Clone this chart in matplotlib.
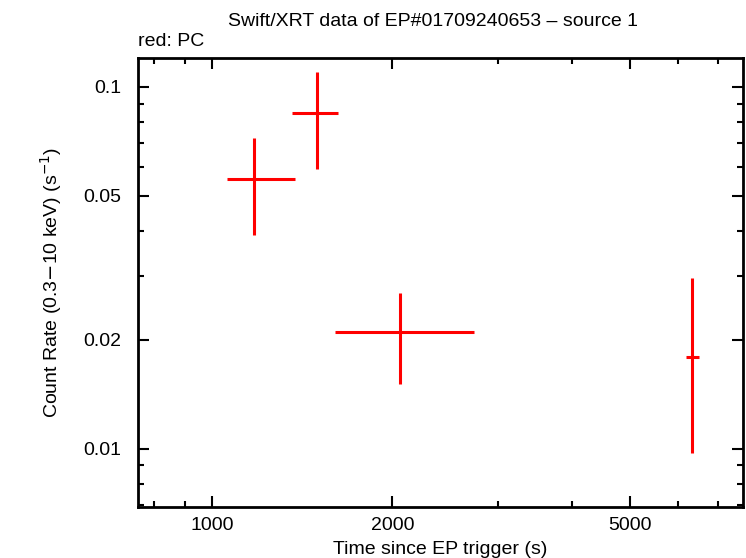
import numpy as np
import matplotlib
matplotlib.use('Agg')
import matplotlib.pyplot as plt
from matplotlib.ticker import FixedLocator, LogLocator, NullFormatter

plt.rcParams['font.family'] = ['Liberation Sans Narrow', 'Liberation Sans', 'DejaVu Sans']

# PC data (time since trigger, count rate)
t = np.array([1172, 1499, 2056, 6343])
t_lo = np.array([1060, 1360, 1605, 6188])
t_hi = np.array([1373, 1623, 2735, 6523])
rate = np.array([0.0556, 0.0846, 0.0210, 0.0179])
rate_lo = np.array([0.0391, 0.0594, 0.0151, 0.00977])
rate_hi = np.array([0.0723, 0.1100, 0.0269, 0.0297])

xticks = [1000, 2000, 5000]
yticks = [0.01, 0.02, 0.05, 0.1]

fig = plt.figure(figsize=(7.46, 5.58), dpi=100)
ax = fig.add_axes([0.185, 0.0914, 0.811, 0.8046])

ax.errorbar(t, rate, xerr=[t - t_lo, t_hi - t], yerr=[rate - rate_lo, rate_hi - rate],
            fmt='none', ecolor='red', elinewidth=2.2, capsize=0)

ax.set_xscale('log')
ax.set_yscale('log')
ax.set_xlim(751, 7718)
ax.set_ylim(0.00691, 0.1202)

ax.xaxis.set_major_locator(FixedLocator(xticks))
ax.xaxis.set_major_formatter(plt.FixedFormatter([str(v) for v in xticks]))
ax.xaxis.set_minor_locator(LogLocator(base=10, subs=np.arange(2, 10)))
ax.xaxis.set_minor_formatter(NullFormatter())
ax.yaxis.set_major_locator(FixedLocator(yticks))
ax.yaxis.set_major_formatter(plt.FixedFormatter([str(v) for v in yticks]))
ax.yaxis.set_minor_locator(LogLocator(base=10, subs=np.arange(2, 10)))
ax.yaxis.set_minor_formatter(NullFormatter())

fs = 14
ax.tick_params(which='both', direction='in', top=True, right=True, width=1.5, labelsize=fs)
ax.tick_params(which='major', length=8)
ax.tick_params(axis='y', which='major', pad=12)
ax.tick_params(axis='x', which='major', pad=7)
ax.tick_params(which='minor', length=4)
for s in ax.spines.values():
    s.set_linewidth(2)

ax.set_xlabel('Time since EP trigger (s)', fontsize=fs, labelpad=5)
ax.set_ylabel('Count Rate (0.3$-$10 keV) (s$^{-1}$)', fontsize=fs, labelpad=14)
fig.text(0.58, 0.962, 'Swift/XRT data of EP#01709240653 \u2013 source 1', ha='center', va='center', fontsize=fs)
fig.text(0.185, 0.925, 'red: PC', ha='left', va='center', fontsize=fs)

fig.savefig('out.png', dpi=100)
